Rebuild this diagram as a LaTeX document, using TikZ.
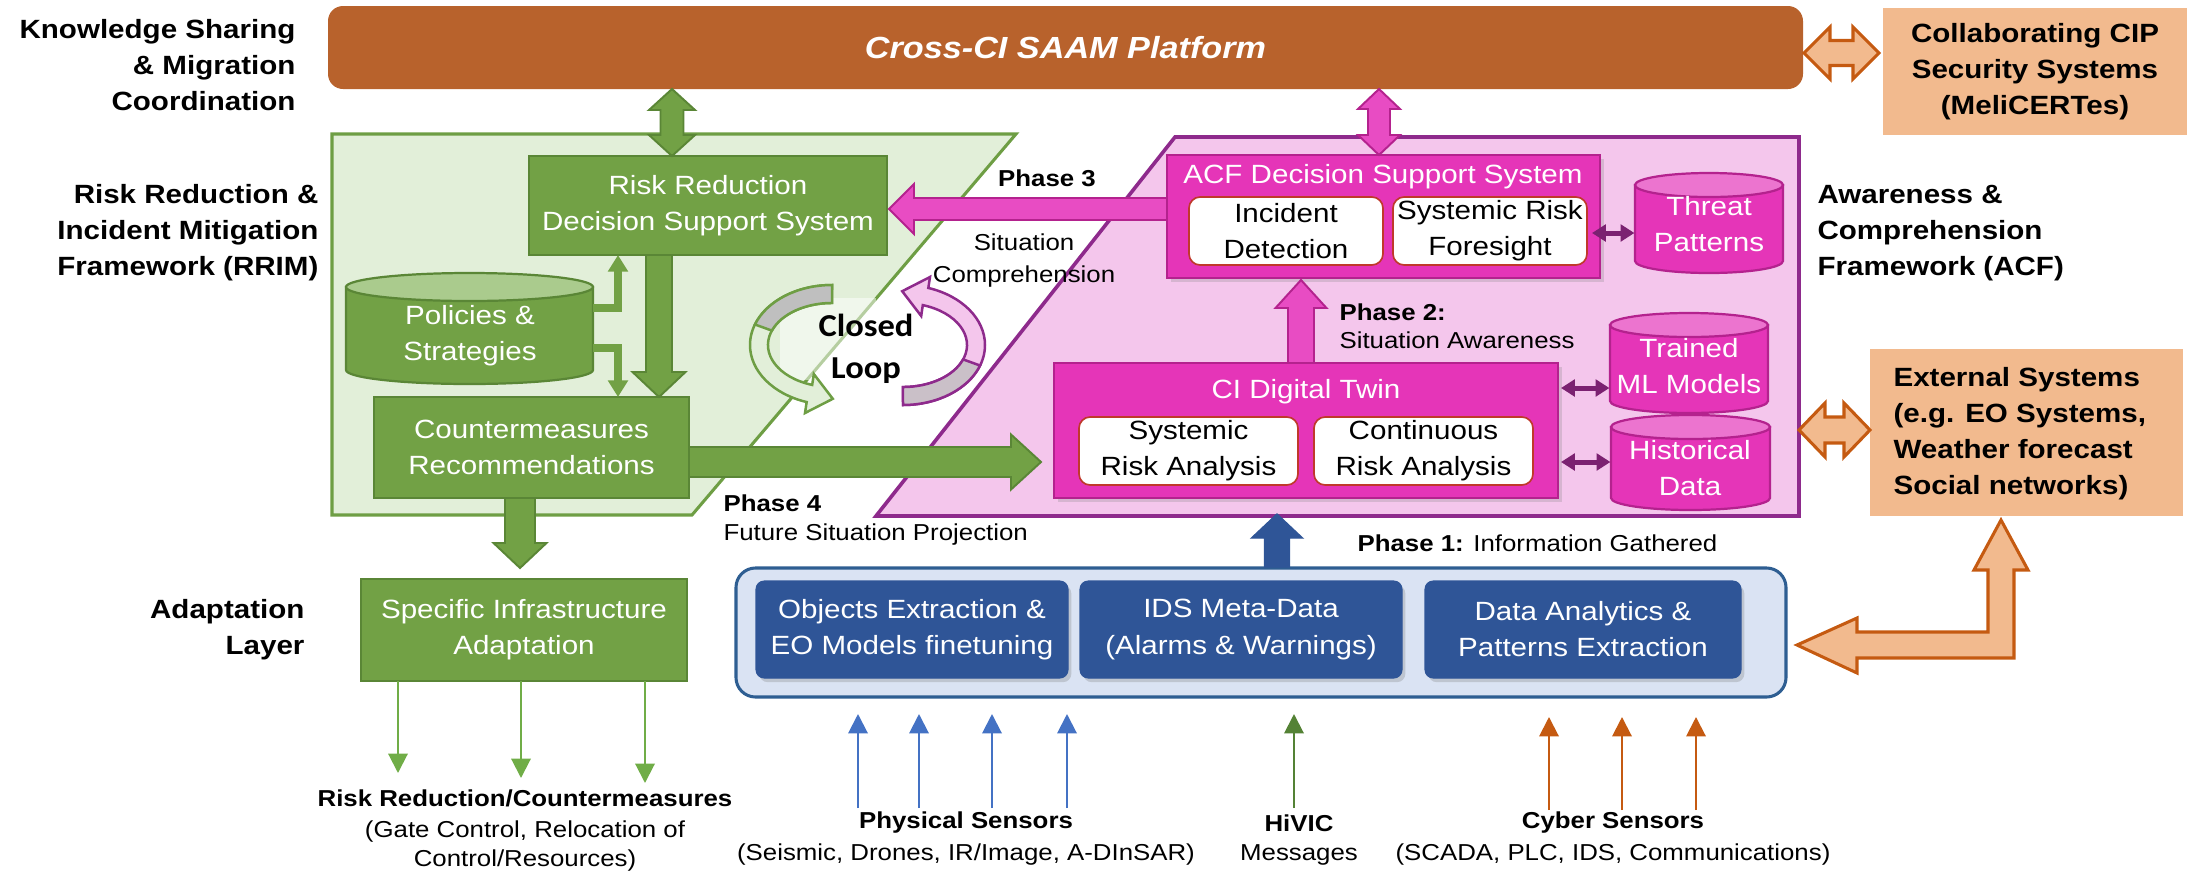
\documentclass[tikz,border=0pt]{standalone}
\usepackage{fontspec}
\setmainfont{Liberation Sans}[FakeStretch=1.12]
\newfontfamily\loopfont{Carlito}[FakeStretch=1.08]
\usetikzlibrary{arrows.meta,calc,shadows}
\definecolor{bannerc}{HTML}{B8622C}
\definecolor{peach}{HTML}{F2BA8E}
\definecolor{peachline}{HTML}{C55A11}
\definecolor{gregion}{HTML}{E2EFD9}
\definecolor{gline}{HTML}{6E9E44}
\definecolor{gbody}{HTML}{72A145}
\definecolor{gdark}{HTML}{5A8636}
\definecolor{gtop}{HTML}{AACB8D}
\definecolor{pregion}{HTML}{F4C6EC}
\definecolor{pline}{HTML}{8E2A8C}
\definecolor{mag}{HTML}{E535B8}
\definecolor{magdark}{HTML}{B4228E}
\definecolor{magtop}{HTML}{EC74CF}
\definecolor{parrowc}{HTML}{E84CC3}
\definecolor{purp}{HTML}{7B2171}
\definecolor{bpanel}{HTML}{DAE3F3}
\definecolor{bline}{HTML}{2E5E92}
\definecolor{bboxc}{HTML}{2F5597}
\definecolor{sblue}{HTML}{4472C4}
\definecolor{sgreen}{HTML}{548235}
\definecolor{sorange}{HTML}{C55A11}
\definecolor{wred}{HTML}{C0392B}
\definecolor{lgreen}{HTML}{70AD47}
\definecolor{greyband}{HTML}{BFBFBF}
\newcommand\myfA{\fontsize{9.5}{13}\selectfont}
\newcommand\myfP{\fontsize{8.3}{11.5}\selectfont}
% block arrows: #1 style, #2 from, #3 to, #4 shaft half, #5 head half, #6 head length
\newcommand\vdown[6]{\path[#1] let \p1=(#2), \p2=(#3) in
 (\x1-#4,\y1) -- (\x1-#4,\y2+#6) -- (\x1-#5,\y2+#6) -- (\x1,\y2) -- (\x1+#5,\y2+#6) -- (\x1+#4,\y2+#6) -- (\x1+#4,\y1) -- cycle;}
\newcommand\vup[6]{\path[#1] let \p1=(#2), \p2=(#3) in
 (\x1-#4,\y1) -- (\x1-#4,\y2-#6) -- (\x1-#5,\y2-#6) -- (\x1,\y2) -- (\x1+#5,\y2-#6) -- (\x1+#4,\y2-#6) -- (\x1+#4,\y1) -- cycle;}
\newcommand\hright[6]{\path[#1] let \p1=(#2), \p2=(#3) in
 (\x1,\y1-#4) -- (\x2-#6,\y1-#4) -- (\x2-#6,\y1-#5) -- (\x2,\y1) -- (\x2-#6,\y1+#5) -- (\x2-#6,\y1+#4) -- (\x1,\y1+#4) -- cycle;}
\newcommand\hleft[6]{\path[#1] let \p1=(#2), \p2=(#3) in
 (\x1,\y1-#4) -- (\x2+#6,\y1-#4) -- (\x2+#6,\y1-#5) -- (\x2,\y1) -- (\x2+#6,\y1+#5) -- (\x2+#6,\y1+#4) -- (\x1,\y1+#4) -- cycle;}
\newcommand\vdbl[6]{\path[#1] let \p1=(#2), \p2=(#3) in
 (\x1,\y1) -- (\x1+#5,\y1-#6) -- (\x1+#4,\y1-#6) -- (\x1+#4,\y2+#6) -- (\x1+#5,\y2+#6) -- (\x1,\y2) -- (\x1-#5,\y2+#6) -- (\x1-#4,\y2+#6) -- (\x1-#4,\y1-#6) -- (\x1-#5,\y1-#6) -- cycle;}
\newcommand\hdbl[6]{\path[#1] let \p1=(#2), \p2=(#3) in
 (\x1,\y1) -- (\x1+#6,\y1+#5) -- (\x1+#6,\y1+#4) -- (\x2-#6,\y1+#4) -- (\x2-#6,\y1+#5) -- (\x2,\y1) -- (\x2-#6,\y1-#5) -- (\x2-#6,\y1-#4) -- (\x1+#6,\y1-#4) -- (\x1+#6,\y1-#5) -- cycle;}
% cylinder: #1 name, #2 x1, #3 y1, #4 x2, #5 y2, #6 ry, #7 body, #8 top, #9 border
\newcommand\cyl[9]{%
 \path[fill=#7,draw=#9,line width=0.8pt] (#2,#3+#6) -- (#2,#5-#6) arc[start angle=180,end angle=0,x radius={(#4-#2)/2},y radius=#6] -- (#4,#3+#6) -- cycle;
 \path[fill=#8,draw=#9,line width=0.8pt] ({(#2+#4)/2},#3+#6) ellipse[x radius={(#4-#2)/2},y radius=#6];
 \node[inner sep=0,minimum width={(#4-#2)*0.36pt},minimum height={(#5-#3)*0.36pt}] (#1) at ({(#2+#4)/2},{(#3+#5)/2}) {};}
\begin{document}
\begin{tikzpicture}[x=0.36pt,y=-0.36pt,
 gbox/.style={rectangle,fill=gbody,draw=gdark,line width=0.8pt,text=white,align=center,font=\myfA,inner sep=0},
 mbox/.style={rectangle,fill=mag,draw=magdark,line width=0.8pt,inner sep=0,drop shadow={shadow xshift=1.5pt,shadow yshift=-1.5pt,opacity=0.25}},
 wbox/.style={rectangle,rounded corners=4pt,fill=white,draw=wred,line width=0.6pt,align=center,font=\myfA,inner sep=0},
 bbx/.style={rectangle,rounded corners=3pt,fill=bboxc,draw=bboxc,text=white,align=center,font=\myfA,inner sep=0,drop shadow={shadow xshift=1.2pt,shadow yshift=-1.5pt,opacity=0.3}},
 lab/.style={font=\myfA\bfseries,inner sep=0},
 wtxt/.style={text=white,font=\myfA,align=center,inner sep=0},
 ph/.style={font=\myfP,inner sep=0},
 phb/.style={font=\myfP\bfseries,inner sep=0},
 gblock/.style={fill=gbody,draw=gdark,line width=0.7pt},
 pblock/.style={fill=parrowc,draw=magdark,line width=0.7pt},
 bblock/.style={fill=bboxc,draw=bboxc,line width=0.5pt},
 oblock/.style={fill=peach,draw=peachline,line width=1.1pt,line join=miter},
 smallg/.style={draw=gbody,line width=2.6pt,-{Triangle[width=7pt,length=6pt]}},
 parr/.style={draw=purp,line width=1.8pt,{Triangle[width=6pt,length=5pt]}-{Triangle[width=6pt,length=5pt]}},
 sensor/.style={line width=0.75pt,-{Triangle[width=7pt,length=7pt]}}
]
\useasboundingbox (0,0) rectangle (2190,872);

% ---------- regions ----------
\path[fill=gregion,draw=gline,line width=1.1pt] (332,134) -- (1016,134) -- (692,515) -- (332,515) -- cycle;
\path[fill=pregion,draw=pline,line width=1.3pt] (1175,137) -- (1799,137) -- (1799,516) -- (876,516) -- cycle;

% ---------- closed loop ----------
\path[fill=white,opacity=0.5] (780,298) rectangle (876,380);
% green curved arrow
\path[fill=gregion,draw=gline,line width=0.9pt] (832,285) arc[start angle=270,end angle=108,x radius=82,y radius=60]
  -- (805,413) -- (832.8,398.8) -- (813.8,374) -- (812.2,384.9)
  arc[start angle=108,end angle=270,x radius=64,y radius=42] -- cycle;
\path[fill=greyband,draw=gline,line width=0.9pt] (832,285) arc[start angle=270,end angle=200,x radius=82,y radius=60]
  -- (771.9,330.6) arc[start angle=200,end angle=270,x radius=64,y radius=42] -- cycle;
% pink curved arrow
\path[fill=pregion,draw=pline,line width=0.9pt] (903,405) arc[start angle=90,end angle=-72,x radius=82,y radius=60]
  -- (930,277) -- (902.2,291.2) -- (921.2,316) -- (922.8,305.1)
  arc[start angle=-72,end angle=90,x radius=64,y radius=42] -- cycle;
\path[fill=greyband!80!pregion,draw=pline,line width=0.9pt] (903,405) arc[start angle=90,end angle=20,x radius=82,y radius=60]
  -- (963.1,359.4) arc[start angle=20,end angle=90,x radius=64,y radius=42] -- cycle;
\node[font=\loopfont\fontsize{11.5}{15}\selectfont\bfseries,align=center,inner sep=0] (loop) at (866,349) {Closed\\Loop};

% ---------- top ----------
\node[fill=bannerc,rounded corners=5.4pt,minimum width=531pt,minimum height=29.88pt,inner sep=0,text=white,
  font=\fontsize{11}{13}\selectfont\bfseries\itshape] (ban) at (1065.5,47.5) {Cross-CI SAAM Platform};
\node[fill=peach,minimum width=109.44pt,minimum height=45.72pt,inner sep=0,align=center,font=\myfA\bfseries] (col) at (2035,71.5)
  {Collaborating CIP\\Security Systems\\(MeliCERTes)};
\node[fill=peach,minimum width=112.68pt,minimum height=60.12pt,inner sep=0] (ext) at (2026.5,432.5) {};
\node[anchor=west,align=left,font=\myfA\bfseries,inner sep=0] (extt) at (1893,434)
  {External Systems\\(e.g. EO Systems,\\Weather forecast\\Social networks)};

% ---------- RRIM ----------
\node[gbox,minimum width=128.88pt,minimum height=35.64pt] (rrd) at (708,205.5) {Risk Reduction\\Decision Support System};
\node[gbox,minimum width=113.4pt,minimum height=36.36pt] (cm) at (531.5,447.5) {Countermeasures\\Recommendations};
\node[gbox,minimum width=117.36pt,minimum height=36.72pt] (sia) at (524,630) {Specific Infrastructure\\Adaptation};
\cyl{pol}{346}{273}{593}{384}{14}{gbody}{gtop}{gdark}
\node[wtxt] (polt) at (470,336) {Policies \&\\Strategies};

% ---------- ACF ----------
\node[mbox,minimum width=155.88pt,minimum height=44.28pt] (acf) at (1383.5,216.5) {};
\node[wtxt] (acft) at (1383,177) {ACF Decision Support System};
\node[wbox,minimum width=69.84pt,minimum height=24.48pt] (inc) at (1286,231) {Incident\\Detection};
\node[wbox,minimum width=69.84pt,minimum height=24.48pt] (srf) at (1490,231) {Systemic Risk\\Foresight};
\node[mbox,minimum width=181.44pt,minimum height=48.6pt] (cit) at (1306,430.5) {};
\node[wtxt] (citt) at (1306,392) {CI Digital Twin};
\node[wbox,minimum width=78.84pt,minimum height=24.48pt] (sra) at (1188.5,451) {Systemic\\Risk Analysis};
\node[wbox,minimum width=78.84pt,minimum height=24.48pt] (cra) at (1423.5,451) {Continuous\\Risk Analysis};
\cyl{thr}{1635}{173}{1783}{273}{12}{mag}{magtop}{magdark}
\node[wtxt] (thrt) at (1709,224) {Threat\\Patterns};
\cyl{tml}{1610}{313}{1768}{413}{12}{mag}{magtop}{magdark}
\node[wtxt] (tmlt) at (1689,366) {Trained\\ML Models};
\cyl{hist}{1611}{415}{1770}{510}{12}{mag}{magtop}{magdark}
\node[wtxt] (histt) at (1690,468) {Historical\\Data};

% ---------- data layer ----------
\node[rectangle,rounded corners=7pt,fill=bpanel,draw=bline,line width=1.1pt,minimum width=378pt,minimum height=46.44pt,inner sep=0] (panel) at (1261,632.5) {};
\node[bbx,minimum width=112.32pt,minimum height=34.92pt] (b1) at (912,629.5) {Objects Extraction \&\\EO Models finetuning};
\node[bbx,minimum width=115.92pt,minimum height=34.92pt] (b2) at (1241,629.5) {IDS Meta-Data\\(Alarms \& Warnings)};
\node[bbx,minimum width=113.76pt,minimum height=34.92pt] (b3) at (1583,629.5) {Data Analytics \&\\Patterns Extraction};

% ---------- block arrows ----------
\coordinate (a1t) at (672,89); \coordinate (a1b) at (672,156);
\vdbl{gblock}{a1t}{a1b}{4.14pt}{8.28pt}{7.56pt}
\coordinate (a2t) at (1379,89); \coordinate (a2b) at (1379,155);
\vdbl{pblock}{a2t}{a2b}{3.96pt}{7.56pt}{7.2pt}
\coordinate (a3s) at (659,255); \coordinate (a3e) at (659,397);
\vdown{gblock}{a3s}{a3e}{4.68pt}{9.54pt}{9pt}
\coordinate (a4s) at (520,498); \coordinate (a4e) at (520,568);
\vdown{gblock}{a4s}{a4e}{5.4pt}{9.54pt}{9pt}
\coordinate (a5s) at (689,462); \coordinate (a5e) at (1041,462);
\hright{gblock}{a5s}{a5e}{5.4pt}{9.9pt}{10.8pt}
\coordinate (a6s) at (1167,209); \coordinate (a6e) at (889,209);
\hleft{pblock}{a6s}{a6e}{3.96pt}{9pt}{9pt}
\coordinate (a7s) at (1301,363); \coordinate (a7e) at (1301,280);
\vup{pblock}{a7s}{a7e}{4.68pt}{9.18pt}{10.08pt}
\coordinate (a8s) at (1277,567); \coordinate (a8e) at (1277,514);
\vup{bblock}{a8s}{a8e}{4.5pt}{9.18pt}{8.64pt}
\coordinate (a9l) at (1804,53); \coordinate (a9r) at (1879,53);
\hdbl{oblock}{a9l}{a9r}{4.5pt}{9.36pt}{9.36pt}
\coordinate (a10l) at (1799,430); \coordinate (a10r) at (1870,430);
\hdbl{oblock}{a10l}{a10r}{4.68pt}{9.72pt}{9.36pt}
\path[oblock] (1797,645) -- (1857,618) -- (1857,632) -- (1988,632) -- (1988,570) -- (1974,570) -- (2001,520)
  -- (2028,570) -- (2014,570) -- (2014,658) -- (1857,658) -- (1857,673) -- cycle;

% small green arrows from policies
\coordinate (pa1) at (593,308); \coordinate (pa2) at (618,255);
\draw[smallg] (pa1) -| (pa2);
\coordinate (pb1) at (593,348); \coordinate (pb2) at (618,397);
\draw[smallg] (pb1) -| (pb2);

% purple double arrows
\coordinate (q0) at (1592,233); \draw[parr] (q0) -- (q0 -| thr.west);
\coordinate (q1) at (1561,388); \draw[parr] (q1) -- (q1 -| tml.west);
\coordinate (q2) at (1561,462); \draw[parr] (q2) -- (q2 -| hist.west);

% adaptation outputs
\foreach \xx/\yy/\nn in {398/773/1,521/778/2,645/783/3}{
  \coordinate (ga\nn) at (\xx,681); \coordinate (gb\nn) at (\xx,\yy);
  \draw[sensor,lgreen] (ga\nn) -- (gb\nn);}
% sensors
\foreach \xx/\nn in {858/1,919/2,992/3,1067/4}{
  \coordinate (ps\nn) at (\xx,808); \coordinate (pe\nn) at (\xx,714);
  \draw[sensor,sblue] (ps\nn) -- (pe\nn);}
\coordinate (hs) at (1294,808); \coordinate (he) at (1294,714);
\draw[sensor,sgreen] (hs) -- (he);
\foreach \xx/\nn in {1549/1,1622/2,1696/3}{
  \coordinate (cs\nn) at (\xx,810); \coordinate (ce\nn) at (\xx,717);
  \draw[sensor,sorange] (cs\nn) -- (ce\nn);}

% ---------- side labels ----------
\node[lab,anchor=east,align=right] (ksl) at (296,65) {Knowledge Sharing\\\& Migration\\Coordination};
\node[lab,anchor=east,align=right] (rrl) at (319,233) {Risk Reduction \&\\Incident Mitigation\\Framework (RRIM)};
\node[lab,anchor=east,align=right] (adl) at (305,630) {Adaptation\\Layer};
\node[lab,anchor=west,align=left] (acl) at (1817,233) {Awareness \&\\Comprehension\\Framework (ACF)};

% ---------- phase labels ----------
\node[phb] (ph3) at (1047,178) {Phase 3};
\node[ph,align=center] (scomp) at (1024,261) {Situation\\Comprehension};
\node[phb,anchor=west] (ph2) at (1339,312) {Phase 2:};
\node[ph,anchor=west] (ph2b) at (1339,340) {Situation Awareness};
\node[phb,anchor=west] (ph4) at (723,503) {Phase 4};
\node[ph,anchor=west] (ph4b) at (723,535) {Future Situation Projection};
\node[ph,anchor=west] (ph1) at (1357,543) {\textbf{Phase 1:} Information Gathered};

% ---------- bottom labels ----------
\node[phb] (rrc) at (525,798) {Risk Reduction/Countermeasures};
\node[ph,align=center,font=\fontsize{8.3}{10.2}\selectfont] (rrc2) at (525,846) {(Gate Control, Relocation of\\Control/Resources)};
\node[phb] (psl) at (966,823) {Physical Sensors};
\node[ph] (psl2) at (966,855) {(Seismic, Drones, IR/Image, A-DInSAR)};
\node[phb] (hvl) at (1299,823) {HiVIC};
\node[ph] (hvl2) at (1299,855) {Messages};
\node[phb] (csl) at (1613,823) {Cyber Sensors};
\node[ph] (csl2) at (1613,855) {(SCADA, PLC, IDS, Communications)};
\end{tikzpicture}
\end{document}
